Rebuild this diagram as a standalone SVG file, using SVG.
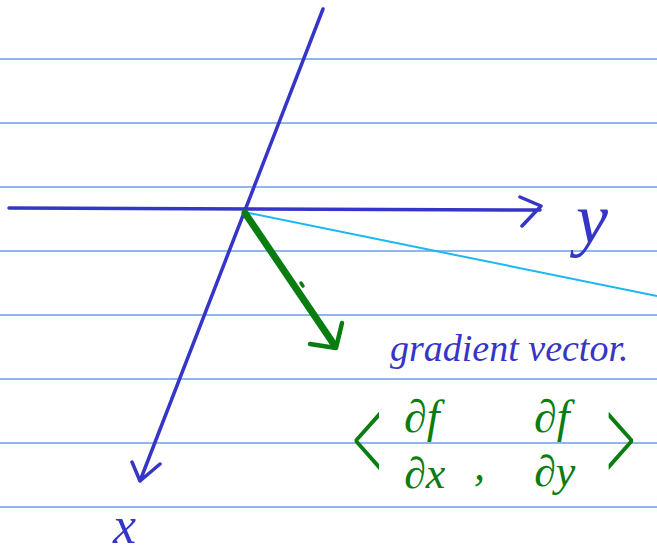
<svg xmlns="http://www.w3.org/2000/svg" width="657" height="556" viewBox="0 0 657 556">
<style>
.rule{stroke:#6b9fe3;stroke-width:1.3}
.ax{stroke:#3535c8;stroke-width:3.5;fill:none;stroke-linecap:round;stroke-linejoin:round}
.gr{stroke:#0a7d10;fill:none;stroke-linecap:round;stroke-linejoin:round}
.bt{fill:#3535c8;font-family:"Liberation Serif",serif;font-style:italic}
.gt{fill:#0a7d10;font-family:"Liberation Serif",serif;font-style:italic}
.br{fill:#0a7d10;font-family:"Liberation Serif",serif;font-size:75px}
</style>
<rect width="657" height="556" fill="#ffffff"/>
<g id="rules">
<line class="rule" x1="0" y1="59" x2="657" y2="59"/>
<line class="rule" x1="0" y1="123" x2="657" y2="123"/>
<line class="rule" x1="0" y1="187" x2="657" y2="187"/>
<line class="rule" x1="0" y1="251" x2="657" y2="251"/>
<line class="rule" x1="0" y1="315" x2="657" y2="315"/>
<line class="rule" x1="0" y1="379" x2="657" y2="379"/>
<line class="rule" x1="0" y1="443" x2="657" y2="443"/>
<line class="rule" x1="0" y1="507" x2="657" y2="507"/>
</g>
<g id="connectors">
<line x1="244" y1="212" x2="657" y2="296" stroke="#19b8f0" stroke-width="2"/>
<path class="ax" d="M9 208 L540 210 M520 197 L541 206 L522 226"/>
<path class="ax" d="M323 9 L140 481 M132 462 L140 481 L160 464"/>
<path class="gr" stroke-width="7" d="M245 213 L333 343"/>
<path class="gr" stroke-width="4.5" d="M342 323 L336 348 L310 344"/>
<path class="gr" stroke-width="3.5" d="M301 283 L303 286"/>
</g>
<g id="label-y"><text class="bt" x="576" y="243" font-size="72">y</text></g>
<g id="label-x"><text class="bt" x="113" y="543" font-size="52">x</text></g>
<g id="label-gradient"><text class="bt" x="390" y="361" font-size="38">gradient vector.</text></g>
<g id="gradient-expr">
<text class="br" transform="translate(352,481) scale(0.7,1.6)">&lt;</text>
<text class="gt" x="404" y="432" font-size="46">∂f</text>
<text class="gt" x="404" y="488" font-size="44">∂x</text>
<text class="gt" x="474" y="480" font-size="44">,</text>
<text class="gt" x="534" y="432" font-size="46">∂f</text>
<text class="gt" x="534" y="486" font-size="44">∂y</text>
<text class="br" transform="translate(606,481) scale(0.7,1.6)">&gt;</text>
</g>
</svg>
